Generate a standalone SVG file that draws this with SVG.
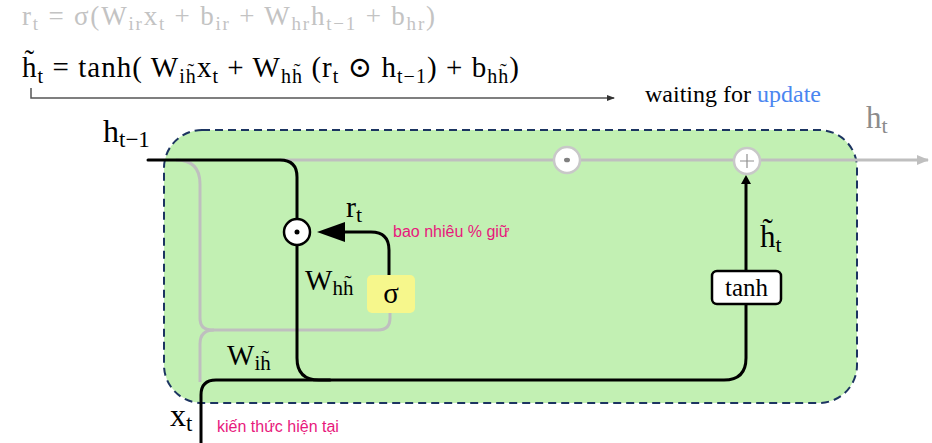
<svg xmlns="http://www.w3.org/2000/svg" width="932" height="443" viewBox="0 0 932 443">
<style>
.m{font-family:"Liberation Serif","DejaVu Serif",serif;}
.s{font-family:"Liberation Sans",Arial,sans-serif;}
.pk{fill:#e8187c;font-size:16px;}
.blk{fill:none;stroke:#000;stroke-width:3;stroke-linecap:round;stroke-linejoin:round;}
.gry{fill:none;stroke:#bfbfbf;stroke-width:3;}
</style>
<defs>
<marker id="ag" markerWidth="12" markerHeight="12" refX="11" refY="6" orient="auto" markerUnits="userSpaceOnUse"><path d="M0,1 L12,6 L0,11 Z" fill="#bfbfbf"/></marker>
<marker id="ad" markerWidth="8" markerHeight="8" refX="7" refY="4" orient="auto" markerUnits="userSpaceOnUse"><path d="M0,1 L8,4 L0,7 Z" fill="#333"/></marker>
</defs>

<g id="equations" class="m">
<text x="22" y="25" font-size="27" fill="#c3c3c3" textLength="413">r<tspan dy="5" font-size="19">t</tspan><tspan dy="-5"> = σ(W</tspan><tspan dy="5" font-size="19">ir</tspan><tspan dy="-5">x</tspan><tspan dy="5" font-size="19">t</tspan><tspan dy="-5"> + b</tspan><tspan dy="5" font-size="19">ir</tspan><tspan dy="-5"> + W</tspan><tspan dy="5" font-size="19">hr</tspan><tspan dy="-5">h</tspan><tspan dy="5" font-size="19">t−1</tspan><tspan dy="-5"> + b</tspan><tspan dy="5" font-size="19">hr</tspan><tspan dy="-5">)</tspan></text>
<text x="22" y="77" font-size="29" fill="#000" textLength="497">h̃<tspan dy="6" font-size="20">t</tspan><tspan dy="-6"> =  tanh( W</tspan><tspan dy="6" font-size="20">ih̃</tspan><tspan dy="-6">x</tspan><tspan dy="6" font-size="20">t</tspan><tspan dy="-6"> + W</tspan><tspan dy="6" font-size="20">hh̃</tspan><tspan dy="-6"> (r</tspan><tspan dy="6" font-size="20">t</tspan><tspan dy="-6"> ⊙ h</tspan><tspan dy="6" font-size="20">t−1</tspan><tspan dy="-6">) + b</tspan><tspan dy="6" font-size="20">hh̃</tspan><tspan dy="-6">)</tspan></text>
<path d="M31,88 L31,98 L614,98" fill="none" stroke="#555" stroke-width="1.5" marker-end="url(#ad)"/>
<text x="645" y="102" font-size="24" fill="#000">waiting for <tspan fill="#4a86f0">update</tspan></text>
</g>

<g id="cell">
<rect x="164" y="130" width="693" height="273" rx="38" fill="#c2f0b3" stroke="#1c3461" stroke-width="2" stroke-dasharray="8 5"/>
</g>

<g id="connectors">
<path class="gry" d="M280,160 L928,160" marker-end="url(#ag)"/>
<path class="gry" d="M176,160 Q200,160 200,184 L200,318 Q200,330 212,330 L378,330 Q390,330 390,318 L390,313"/>
<path class="gry" d="M214,330 Q200,330 200,344 L200,382"/>
<path class="blk" d="M148,160 L280,160 Q297,160 297,177 L297,219"/>
<path class="blk" d="M297,245 L297,358 Q297,380 319,380 L724,380 Q746,380 746,358 L746,304"/>
<path class="blk" d="M201,443 L201,395 Q201,380 216,380 L330,380"/>
<path class="blk" d="M389,275 L389,250 Q389,232 371,232 L340,232"/>
<path d="M317,232 L345,222 L345,242 Z" fill="#000"/>
<path class="blk" d="M746,270 L746,184"/>
<path d="M746,175 L741,184 L751,184 Z" fill="#000"/>
</g>

<g id="mult-reset">
<circle cx="297" cy="232" r="13" fill="#fff" stroke="#000" stroke-width="2.5"/>
<circle cx="297" cy="232" r="2.5" fill="#000"/>
</g>

<g id="mult-update">
<circle cx="567" cy="160" r="13" fill="#fff" stroke="#c8c8c8" stroke-width="2.5"/>
<ellipse cx="567" cy="160" rx="3" ry="2.3" fill="#808080"/>
</g>

<g id="add">
<circle cx="747" cy="161" r="13" fill="#fff" stroke="#c8c8c8" stroke-width="2.5"/>
<path d="M747,154 L747,168 M740,161 L754,161" stroke="#909090" stroke-width="1.2"/>
</g>

<g id="sigma">
<rect x="367" y="275" width="48" height="38" rx="5" fill="#f6f78c"/>
<text x="391" y="303" class="m" font-size="29" text-anchor="middle" fill="#000">σ</text>
</g>

<g id="tanh">
<rect x="712" y="271" width="69" height="33" rx="5" fill="#fff" stroke="#000" stroke-width="2.5"/>
<text x="746.5" y="296" class="m" font-size="25" text-anchor="middle" fill="#000">tanh</text>
</g>

<g id="labels" class="m" fill="#000">
<text x="103" y="142" font-size="32">h<tspan dy="5" font-size="23">t−1</tspan></text>
<text x="866" y="128" font-size="31" fill="#8c8c8c">h<tspan dy="5" font-size="22">t</tspan></text>
<text x="346" y="217" font-size="30">r<tspan dy="5" font-size="22">t</tspan></text>
<text x="305" y="290" font-size="29">W<tspan dy="5" font-size="21">hh̃</tspan></text>
<text x="227" y="365" font-size="29">W<tspan dy="5" font-size="21">ih̃</tspan></text>
<text x="170" y="426" font-size="32">x<tspan dy="5" font-size="23">t</tspan></text>
<text x="760" y="247" font-size="31">h̃<tspan dy="5" font-size="22">t</tspan></text>
</g>

<g id="notes" class="s">
<text x="393" y="237" class="pk">bao nhiêu % giữ</text>
<text x="217" y="432" class="pk">kiến thức hiện tại</text>
</g>
</svg>
